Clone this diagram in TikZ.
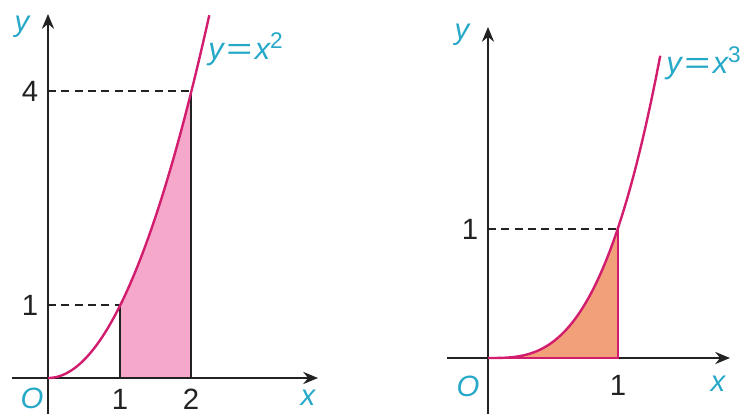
\documentclass[tikz,border=0pt]{standalone}
\usepackage{fontspec}
\setmainfont{Liberation Sans}
\usetikzlibrary{arrows.meta}
\definecolor{curvec}{RGB}{210,28,110}
\definecolor{pinkfill}{RGB}{245,168,202}
\definecolor{orangefill}{RGB}{242,160,122}
\definecolor{labc}{RGB}{38,168,200}
\definecolor{axisc}{RGB}{34,34,34}
\newcommand{\myexp}[1]{\raisebox{8pt}{\fontsize{17}{19}\selectfont\upshape #1}}
\newcommand{\myeq}{\hspace{2pt}\scalebox{1.45}[1]{\upshape=}\hspace{2pt}}
\tikzset{
  axis/.style={line width=1.9pt, draw=axisc, -{Stealth[length=11pt,width=9pt]}},
  curve/.style={line width=1.8pt, draw=curvec},
  dashline/.style={line width=1pt, draw=axisc, dash pattern=on 6pt off 4pt},
  edge/.style={line width=1.8pt, draw=axisc},
  num/.style={font=\fontsize{22}{26}\selectfont, text=axisc, inner sep=0pt},
  var/.style={font=\fontsize{22}{26}\selectfont\itshape, text=labc, inner sep=0pt},
  flab/.style={font=\fontsize{23}{26}\selectfont\itshape, text=labc, inner sep=0pt, anchor=west},
}
\begin{document}
\begin{tikzpicture}[x=0.75pt,y=-0.75pt]
\useasboundingbox (0,0) rectangle (744,414);
% ---------- left graph ----------
\fill[pinkfill] (120,378) -- plot[domain=1:2,samples=40] ({48+71.7*\x},{378-71.7*\x*\x}) -- (191,378) -- cycle;
\draw[dashline] (48,91) -- (191,91);
\draw[dashline] (48,305) -- (120,305);
\draw[edge] (120,378) -- (120,305);
\draw[edge] (191,378) -- (191,91);
\draw[axis] (12,378) -- (318,378);
\draw[axis] (48,414) -- (48,14);
\draw[curve] plot[domain=0:2.25,samples=80] ({48+71.7*\x},{378-71.7*\x*\x});
\node[var] (ly) at (22,27) {y};
\node[num] (l4) at (30,91) {4};
\node[num] (l1) at (30,305) {1};
\node[var] (lO) at (32,398) {O};
\node[num] (lx1) at (120,399) {1};
\node[num] (lx2) at (191,399) {2};
\node[var] (lx) at (308,398) {x};
\node[flab] (lf) at (208,49) {y\myeq x\myexp{2}};
% ---------- right graph ----------
\fill[orangefill] (488,358) -- plot[domain=0:1,samples=40] ({488+130*\x},{358-130*\x*\x*\x}) -- (618,358) -- cycle;
\draw[dashline] (488,229) -- (618,229);
\draw[axis] (447,358) -- (730,358);
\draw[axis] (488,414) -- (488,27);
\draw[curve] (488,358) -- (618,358) -- (618,229);
\draw[curve] plot[domain=0:1.325,samples=80] ({488+130*\x},{358-130*\x*\x*\x});
\node[var] (ry) at (462,35) {y};
\node[num] (r1) at (470,229) {1};
\node[var] (rO) at (468,386) {O};
\node[num] (rx1) at (618,385) {1};
\node[var] (rx) at (718,384) {x};
\node[flab] (rf) at (666,63) {y\myeq x\myexp{3}};
\end{tikzpicture}
\end{document}
